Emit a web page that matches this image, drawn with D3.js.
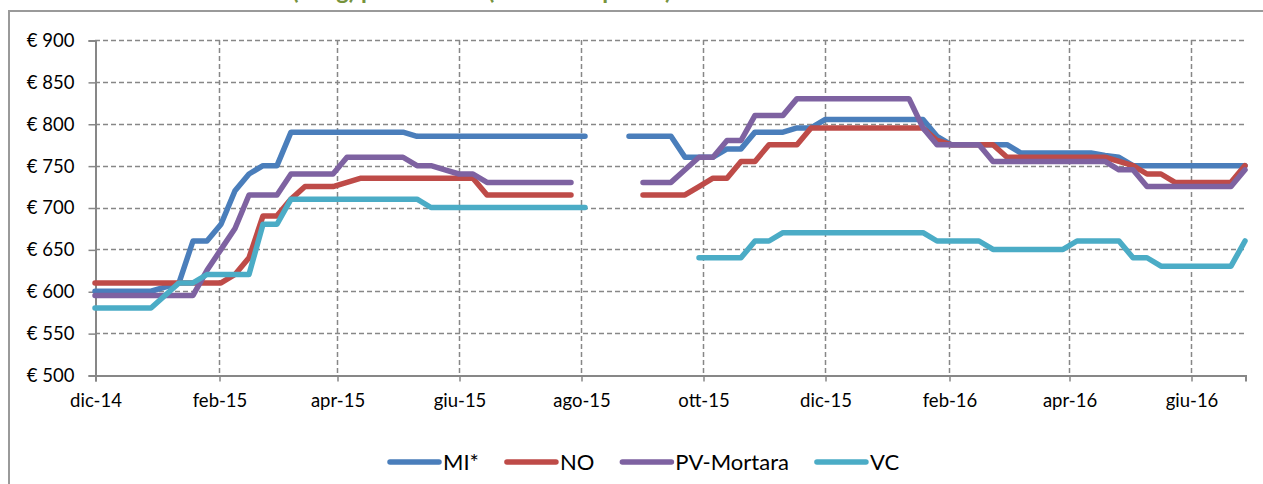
<!DOCTYPE html>
<html>
<head>
<meta charset="utf-8">
<script src="https://cdn.jsdelivr.net/npm/d3@7"></script>
<style>
  html, body { margin: 0; padding: 0; background: #fff; overflow: hidden; }
  svg { display: block; font-family: Lato, "Open Sans", sans-serif; }
</style>
</head>
<body>
<svg id="chart" width="1263" height="484"></svg>
<script>
// Weekly sessions: Monday quotations until the August break, Tuesday quotations afterwards
const sessionDates = [
  ...d3.timeMonday.range(new Date(2014, 11, 1), new Date(2015, 7, 18)),
  ...d3.timeTuesday.range(new Date(2015, 7, 25), new Date(2016, 5, 29))
];

const seriesNames = ["MI*", "NO", "PV-Mortara", "VC"];

const priceMI = [
  600,600,600,600,600,605,610,660,660,680,720,740,750,750,
  790,790,790,790,790,790,790,790,790,
  785,785,785,785,785,785,785,785,785,785,785,785,785,
  null,null,
  785,785,785,785,760,760,760,770,770,790,790,790,795,795,
  805,805,805,805,805,805,805,805,785,
  775,775,775,775,775,765,765,765,765,765,765,762,760,
  750,750,750,750,750,750,750,750,750
];
const priceNO = [
  610,610,610,610,610,610,610,610,610,610,620,640,690,690,
  710,725,725,725,730,735,735,735,735,735,735,735,735,735,
  715,715,715,715,715,715,715,null,
  null,null,
  null,715,715,715,715,725,735,735,755,755,775,775,775,
  795,795,795,795,795,795,795,795,795,780,
  775,775,775,775,760,760,760,760,760,760,760,760,755,750,
  740,740,730,730,730,730,730,750
];
const pricePV = [
  595,595,595,595,595,595,595,595,625,650,675,715,715,715,
  740,740,740,740,760,760,760,760,760,750,750,745,740,740,
  730,730,730,730,730,730,730,null,
  null,null,
  null,730,730,730,745,760,760,780,780,810,810,810,
  830,830,830,830,830,830,830,830,830,795,
  775,775,775,775,755,755,755,755,755,755,755,755,755,
  745,745,725,725,725,725,725,725,725,745
];
const priceVC = [
  580,580,580,580,580,595,610,610,620,620,620,620,680,680,
  710,710,710,710,710,710,710,710,710,710,
  700,700,700,700,700,700,700,700,700,700,700,700,
  null,null,
  null,null,null,null,null,640,640,640,640,660,660,
  670,670,670,670,670,670,670,670,670,670,670,
  660,660,660,660,650,650,650,650,650,650,660,660,660,660,
  640,640,630,630,630,630,630,630,660
];

const yTicks = [500, 550, 600, 650, 700, 750, 800, 850, 900];
const xTickMonths = ["2014-12", "2015-02", "2015-04", "2015-06", "2015-08",
                     "2015-10", "2015-12", "2016-02", "2016-04", "2016-06"];

const titlePrefix = "Risone Arborio ";
const titleBody = "(€/kg) prezzi medi (media dei prezzi)";

const colors = ["#4A7EBB", "#BE4B48", "#7E62A1", "#4BACC6"];
const allSeries = [priceMI, priceNO, pricePV, priceVC];

const itLocale = d3.timeFormatLocale({
  dateTime: "%A %e %B %Y, %X", date: "%d/%m/%Y", time: "%H:%M:%S",
  periods: ["AM", "PM"],
  days: ["domenica","lunedì","martedì","mercoledì","giovedì","venerdì","sabato"],
  shortDays: ["dom","lun","mar","mer","gio","ven","sab"],
  months: ["gennaio","febbraio","marzo","aprile","maggio","giugno","luglio","agosto","settembre","ottobre","novembre","dicembre"],
  shortMonths: ["gen","feb","mar","apr","mag","giu","lug","ago","set","ott","nov","dic"]
});
const fmtMonth = itLocale.format("%b-%y");
const parseMonth = d3.timeParse("%Y-%m");

const svg = d3.select("#chart");
const W = 1263, H = 484;
const plot = { left: 95, right: 1245, top: 40, bottom: 375 };

const x = d3.scaleTime()
  .domain([sessionDates[0], sessionDates[sessionDates.length - 1]])
  .range([plot.left, plot.right]);
const y = d3.scaleLinear().domain([500, 900]).range([plot.bottom, plot.top]);

// Chart title: it sits above the frame and runs off the top edge of the page
const title = svg.append("text")
  .attr("y", -1)
  .attr("fill", "#77933C")
  .attr("font-weight", "bold")
  .attr("font-size", 22)
  .text(titlePrefix + titleBody);
{
  const node = title.node();
  const bodyLen = node.getSubStringLength(titlePrefix.length, titleBody.length);
  const size = 22 * 380 / bodyLen;
  title.attr("font-size", size);
  const prefixLen = node.getSubStringLength(0, titlePrefix.length);
  title.attr("x", 292 - prefixLen);
}

// Chart frame
svg.append("rect")
  .attr("x", 9).attr("y", 11)
  .attr("width", W + 40).attr("height", H + 40)
  .attr("fill", "none").attr("stroke", "#9a9a9a").attr("stroke-width", 2);

const gridColor = "#878787";
const xTicks = xTickMonths.map(parseMonth);

// Horizontal gridlines
svg.append("g").selectAll("line")
  .data(yTicks.filter(v => v > 500))
  .join("line")
  .attr("x1", plot.left).attr("x2", plot.right)
  .attr("y1", d => Math.round(y(d)) + 0.5).attr("y2", d => Math.round(y(d)) + 0.5)
  .attr("stroke", gridColor).attr("stroke-width", 1.5).attr("stroke-dasharray", "5,3");

// Vertical gridlines
svg.append("g").selectAll("line")
  .data(xTicks.slice(1))
  .join("line")
  .attr("x1", d => Math.round(x(d)) + 0.5).attr("x2", d => Math.round(x(d)) + 0.5)
  .attr("y1", plot.top).attr("y2", plot.bottom)
  .attr("stroke", gridColor).attr("stroke-width", 1.5).attr("stroke-dasharray", "5,3");

// Y axis
const yAxis = d3.axisLeft(y).tickValues(yTicks).tickSize(7).tickPadding(14)
  .tickFormat(v => "€ " + v);
const gy = svg.append("g").attr("transform", `translate(${plot.left + 0.5},0.5)`).call(yAxis);
gy.select(".domain").attr("stroke", gridColor).attr("stroke-width", 2);
gy.selectAll(".tick line").attr("stroke", gridColor).attr("stroke-width", 1.5);
gy.selectAll(".tick text").attr("font-size", 18.5).attr("fill", "#000")
  .attr("font-family", "Lato, 'Open Sans', sans-serif");

// X axis
const xAxis = d3.axisBottom(x).tickValues(xTicks).tickSize(6).tickPadding(12)
  .tickFormat(fmtMonth);
const gx = svg.append("g").attr("transform", `translate(0.5,${plot.bottom + 0.5})`).call(xAxis);
gx.select(".domain").attr("stroke", gridColor).attr("stroke-width", 2);
gx.selectAll(".tick line").attr("stroke", gridColor).attr("stroke-width", 1.5);
gx.selectAll(".tick text").attr("font-size", 18.5).attr("fill", "#000")
  .attr("font-family", "Lato, 'Open Sans', sans-serif");

// Series lines
const line = d3.line()
  .defined(d => d.v != null)
  .x(d => x(d.date))
  .y(d => y(d.v));

allSeries.forEach((vals, i) => {
  const pts = vals.map((v, k) => ({ date: sessionDates[k], v }));
  svg.append("path")
    .datum(pts)
    .attr("d", line)
    .attr("fill", "none")
    .attr("stroke", colors[i])
    .attr("stroke-width", 5.5)
    .attr("stroke-linejoin", "round")
    .attr("stroke-linecap", "round");
});

// Legend
const legend = svg.append("g").attr("transform", "translate(0,462)");
let lx = 390;
seriesNames.forEach((name, i) => {
  legend.append("line")
    .attr("x1", lx).attr("x2", lx + 49)
    .attr("y1", 0).attr("y2", 0)
    .attr("stroke", colors[i]).attr("stroke-width", 5.5).attr("stroke-linecap", "round");
  const t = legend.append("text")
    .attr("x", lx + 53).attr("y", 0).attr("dy", "0.36em")
    .attr("font-size", 22).attr("fill", "#000")
    .text(name);
  lx += 53 + t.node().getComputedTextLength() + 28;
});
</script>
</body>
</html>
